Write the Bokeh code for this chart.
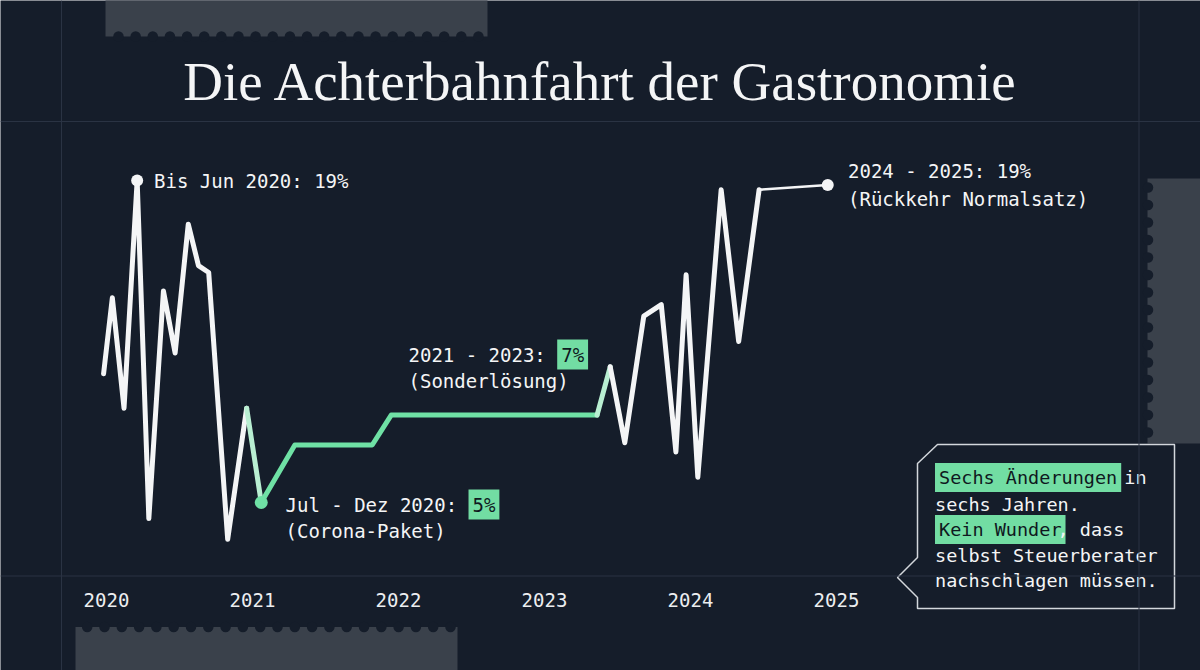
import numpy as np
from bokeh.plotting import figure
from bokeh.models import Range1d, LinearAxis, FixedTicker, Span
from bokeh.core.properties import value
from bokeh.embed import file_html
from bokeh.resources import INLINE

# ---------------- data ----------------
dates = [2019.98, 2020.04, 2020.12, 2020.21, 2020.29, 2020.39, 2020.47, 2020.56,
         2020.63, 2020.70, 2020.83, 2020.96, 2021.06, 2021.29, 2021.82, 2021.95,
         2023.36, 2023.45, 2023.55, 2023.68, 2023.80, 2023.90, 2023.97, 2024.05,
         2024.21, 2024.33, 2024.47, 2024.94]
values = [10.6, 13.9, 9.1, 19.0, 4.3, 14.2, 11.5, 17.1,
          15.3, 15.0, 3.4, 9.1, 5.0, 7.5, 7.5, 8.8,
          8.8, 10.9, 7.6, 13.1, 13.6, 7.2, 14.9, 6.1,
          18.6, 12.0, 18.6, 18.8]
year_ticks = [2020, 2021, 2022, 2023, 2024, 2025]

title_text = "Die Achterbahnfahrt der Gastronomie"
label_start = "Bis Jun 2020: 19%"
label_corona = "Jul - Dez 2020: "
label_corona_rate = "5%"
label_corona_note = "(Corona-Paket)"
label_sonder = "2021 - 2023: "
label_sonder_rate = "7%"
label_sonder_note = "(Sonderlösung)"
label_end = "2024 - 2025: 19%"
label_end_note = "(Rückkehr Normalsatz)"
callout_hl1 = "Sechs Änderungen"
callout_l1_rest = "in"
callout_l2 = "sechs Jahren."
callout_hl3 = "Kein Wunder"
callout_l3_rest = ", dass"
callout_l4 = "selbst Steuerberater"
callout_l5 = "nachschlagen müssen."

# ---------------- style ----------------
BG = "#151d2a"
GRIDC = "#2a3343"
GREY = "#3a414b"
WHITE = "#f4f5f6"
GREEN = "#6fe1a5"
MIX = "#b9efd2"
HL = "#72dda3"
DARK = "#0f1820"
MONO = "DejaVu Sans Mono"
SERIF = "Liberation Serif"

W, H = 1200, 670


def fx(px):
    return 2020 + (px - 106) / 146.0


def fy(py):
    return 5 + (502 - py) / 23.0


p = figure(width=W, height=H,
           x_range=Range1d(fx(0), fx(W)), y_range=Range1d(fy(H), fy(0)),
           output_backend="svg", toolbar_location=None,
           x_axis_type=None, y_axis_type=None, min_border=0,
           background_fill_color=BG, border_fill_color=BG, outline_line_color=None)

# decorative guide lines
for xv in (61, 1138.5):
    p.add_layout(Span(location=fx(xv), dimension="height", line_color=GRIDC, line_width=1))
for yv in (121, 575.5):
    p.add_layout(Span(location=fy(yv), dimension="width", line_color=GRIDC, line_width=1))

# grey stamp-like blocks
p.quad(left=[fx(105), fx(75), fx(1147)], right=[fx(487), fx(457), fx(1205)],
       top=[fy(-5), fy(626.5), fy(178)], bottom=[fy(36), fy(675), fy(443)],
       fill_color=GREY, line_color=None)
nx_top = 118 + 17.14 * np.arange(22)
nx_bot = 86.7 + 17.3 * np.arange(22)
ny_right = 187 + 17.5 * np.arange(15)
p.scatter(x=[fx(v) for v in nx_top], y=[fy(36)] * len(nx_top), size=10.5,
          fill_color=BG, line_color=None)
p.scatter(x=[fx(v) for v in nx_bot], y=[fy(626.5)] * len(nx_bot), size=10.5,
          fill_color=BG, line_color=None)
p.scatter(x=[fx(1147.5)] * len(ny_right), y=[fy(v) for v in ny_right], size=10.5,
          fill_color=BG, line_color=None)

# x axis
xaxis = LinearAxis(fixed_location=fy(575.5), ticker=FixedTicker(ticks=year_ticks),
                   axis_line_color=None, major_tick_line_color=None,
                   minor_tick_line_color=None, major_label_standoff=11,
                   major_label_text_font=MONO, major_label_text_font_size="19px",
                   major_label_text_color="#eceef0")
p.add_layout(xaxis, "below")


def txt(x, y, s, size=19, color=WHITE, font=MONO, align="left", baseline="middle",
        bg=None, pad=4):
    kw = {}
    if bg is not None:
        kw = dict(background_fill_color=bg, padding=pad)
    p.text(x=[x], y=[y], text=[s], text_font=value(font), text_font_size=f"{size}px",
           text_color=color, text_align=align, text_baseline=baseline, **kw)


# title
txt(fx(600.5), fy(80.5), title_text, size=55, font=SERIF, align="center")

# the rollercoaster line
LW = 5
p.line(dates[0:12], values[0:12], line_color=WHITE, line_width=LW, line_join="round",
       line_cap="round")
p.line(dates[11:13], values[11:13], line_color=MIX, line_width=LW, line_join="round",
       line_cap="round")
p.line(dates[12:17], values[12:17], line_color=GREEN, line_width=LW, line_join="round",
       line_cap="round")
p.line(dates[16:18], values[16:18], line_color=MIX, line_width=LW, line_join="round",
       line_cap="round")
p.line(dates[17:27], values[17:27], line_color=WHITE, line_width=LW, line_join="round",
       line_cap="round")
p.line(dates[26:28], values[26:28], line_color=WHITE, line_width=2.5, line_cap="round")

p.scatter(x=[dates[3]], y=[values[3]], size=12, fill_color=WHITE, line_color=None)
p.scatter(x=[dates[12]], y=[values[12]], size=13, fill_color=GREEN, line_color=None)
p.scatter(x=[dates[27]], y=[values[27]], size=12, fill_color=WHITE, line_color=None)

# labels
CW = 0.602 * 19
txt(fx(153.5), fy(180), label_start)
txt(fx(285), fy(504), label_corona)
txt(fx(285 + len(label_corona) * CW), fy(504), label_corona_rate, color=DARK, bg=HL)
txt(fx(285), fy(530), label_corona_note)
txt(fx(408), fy(354), label_sonder)
txt(fx(408 + len(label_sonder) * CW), fy(354), label_sonder_rate, color=DARK, bg=HL)
txt(fx(408), fy(380.5), label_sonder_note)
txt(fx(847.5), fy(170), label_end)
txt(fx(847.5), fy(198), label_end_note)

# callout box
cb = [(937, 444), (1174, 444), (1174, 608), (917, 608), (917, 597), (897, 577),
      (917, 557), (917, 463)]
p.patch(x=[fx(a) for a, b in cb], y=[fy(b) for a, b in cb], fill_color=BG,
        line_color="#d3d7dc", line_width=1.5)
CW2 = 0.602 * 18.5
CX = 934.5
txt(fx(CX), fy(477), callout_hl1, size=18.5, color=DARK, bg=HL)
txt(fx(CX + (len(callout_hl1) + 1) * CW2), fy(477), callout_l1_rest, size=18.5)
txt(fx(CX), fy(503.5), callout_l2, size=18.5)
txt(fx(CX), fy(529), callout_hl3, size=18.5, color=DARK, bg=HL)
txt(fx(CX + len(callout_hl3) * CW2), fy(529), callout_l3_rest, size=18.5)
txt(fx(CX), fy(554.5), callout_l4, size=18.5)
txt(fx(CX), fy(580), callout_l5, size=18.5)

html = file_html(p, INLINE)
html = html.replace("<body>", '<body style="margin:0;background-color:%s;">' % BG, 1)
open("out.html", "w").write(html)
